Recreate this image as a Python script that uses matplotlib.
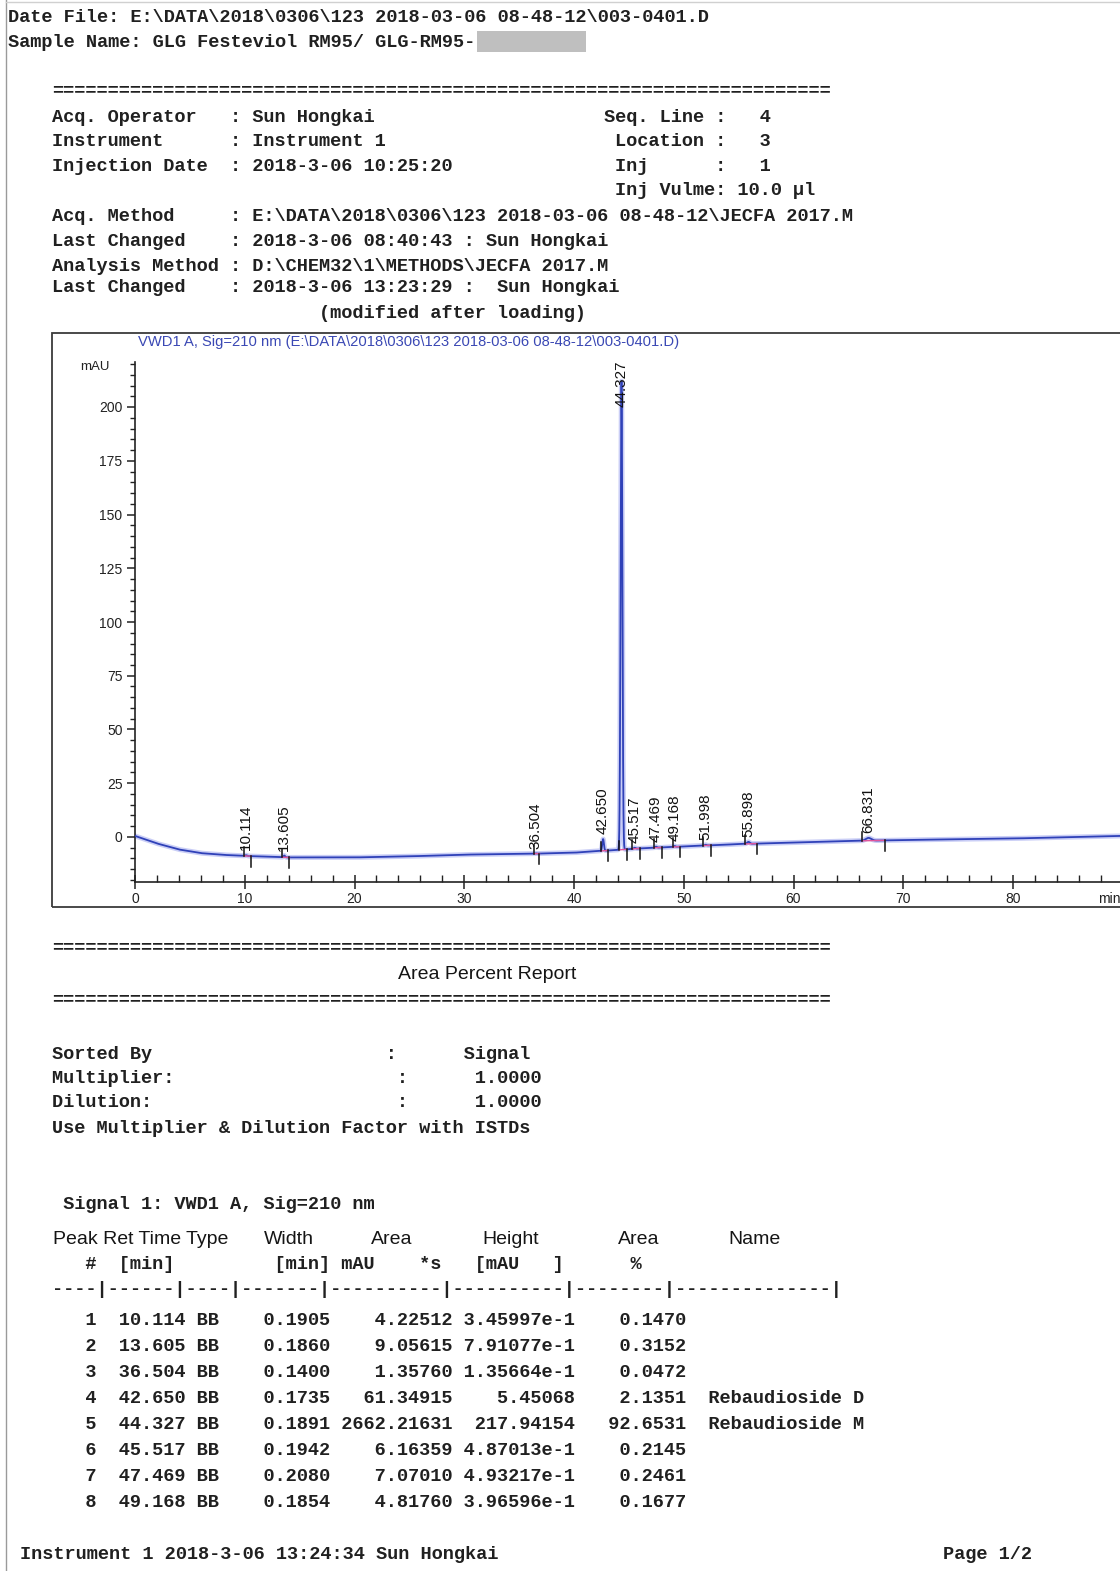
import numpy as np
import matplotlib
matplotlib.use("Agg")
import matplotlib.pyplot as plt
from matplotlib.patches import Rectangle
from matplotlib.ticker import MultipleLocator

# ---------------- data ----------------
baseline_t = [0, 2, 4, 6, 8, 10, 14, 20, 25, 30, 36, 40, 42, 44, 46, 50, 55, 60, 66, 70, 80, 89.8]
baseline_v = [0.5, -3.0, -5.8, -7.5, -8.3, -8.8, -9.5, -9.5, -9.0, -8.2, -7.8, -7.3, -6.6, -6.0,
              -5.3, -4.4, -3.3, -2.6, -1.8, -1.4, -0.7, 0.5]

peak_rt = [10.114, 13.605, 36.504, 42.650, 44.327, 45.517, 47.469, 49.168, 51.998, 55.898, 66.831]
peak_height = [0.346, 0.791, 0.136, 5.451, 217.942, 0.487, 0.493, 0.397, 0.35, 0.9, 1.3]
peak_width = [0.1905, 0.1860, 0.1400, 0.1735, 0.1891, 0.1942, 0.2080, 0.1854, 0.2, 0.3, 0.6]
peak_labels = ["10.114", "13.605", "36.504", "42.650", "44.327", "45.517", "47.469", "49.168",
               "51.998", "55.898", "66.831"]

yticks = [0, 25, 50, 75, 100, 125, 150, 175, 200]
xticks = [0, 10, 20, 30, 40, 50, 60, 70, 80]

tbl_num = [1, 2, 3, 4, 5, 6, 7, 8]
tbl_rt = [10.114, 13.605, 36.504, 42.650, 44.327, 45.517, 47.469, 49.168]
tbl_type = ["BB"] * 8
tbl_width = [0.1905, 0.1860, 0.1400, 0.1735, 0.1891, 0.1942, 0.2080, 0.1854]
tbl_area = ["4.22512", "9.05615", "1.35760", "61.34915", "2662.21631", "6.16359", "7.07010", "4.81760"]
tbl_height = ["3.45997e-1", "7.91077e-1", "1.35664e-1", "5.45068", "217.94154", "4.87013e-1",
              "4.93217e-1", "3.96596e-1"]
tbl_pct = ["0.1470", "0.3152", "0.0472", "2.1351", "92.6531", "0.2145", "0.2461", "0.1677"]
tbl_name = ["", "", "", "Rebaudioside D", "Rebaudioside M", "", "", ""]

# ---------------- figure ----------------
W, H = 1120, 1571
fig = plt.figure(figsize=(W / 100, H / 100), dpi=100)
fig.patch.set_facecolor("white")

MONO = "Liberation Mono"
SANS = "Liberation Sans"
TXT = "#151515"
DY = 2.5  # visual centring correction


def fx(x):
    return x / W


def fy(y):
    return 1 - y / H


def mono(x, y, s, **kw):
    fig.text(fx(x), fy(y + DY), s, family=MONO, fontsize=13.4, weight="bold", color="#202020",
             va="center", ha="left", **kw)


def sans(x, y, s, size=14, **kw):
    kw.setdefault("ha", "left")
    fig.text(fx(x), fy(y + DY), s, family=SANS, fontsize=size, color=TXT, va="center", **kw)


def cols(pairs, n=70):
    s = [" "] * n
    for c, t in pairs:
        s[c:c + len(t)] = list(t)
    return "".join(s).rstrip()


# page borders
fig.add_artist(plt.Line2D([fx(5.5), fx(5.5)], [0, 1], transform=fig.transFigure, color="#9a9a9a", lw=1))
fig.add_artist(plt.Line2D([fx(5.5), 1], [fy(2), fy(2)], transform=fig.transFigure, color="#d0d0d0", lw=1))

# header
mono(8, 15, r"Date File: E:\DATA\2018\0306\123 2018-03-06 08-48-12\003-0401.D")
mono(8, 40, "Sample Name: GLG Festeviol RM95/ GLG-RM95-")
fig.add_artist(Rectangle((fx(477), fy(52)), fx(586) - fx(477), fy(31) - fy(52),
                         transform=fig.transFigure, facecolor="#bfbfbf", edgecolor="none"))
mono(52, 88, "=" * 70)
mono(52, 115, "Acq. Operator   : Sun Hongkai")
mono(52, 139, "Instrument      : Instrument 1")
mono(52, 164, "Injection Date  : 2018-3-06 10:25:20")
mono(52, 214, r"Acq. Method     : E:\DATA\2018\0306\123 2018-03-06 08-48-12\JECFA 2017.M")
mono(52, 239, "Last Changed    : 2018-3-06 08:40:43 : Sun Hongkai")
mono(52, 264, r"Analysis Method : D:\CHEM32\1\METHODS\JECFA 2017.M")
mono(52, 285, "Last Changed    : 2018-3-06 13:23:29 :  Sun Hongkai")
mono(52, 311, "                        (modified after loading)")
mono(604, 115, "Seq. Line :   4")
mono(615, 139, "Location :   3")
mono(615, 164, "Inj      :   1")
mono(615, 188, "Inj Vulme: 10.0 µl")

# chart frame
fig.add_artist(Rectangle((fx(52), fy(907)), fx(1135) - fx(52), fy(333) - fy(907),
                         transform=fig.transFigure, facecolor="none", edgecolor="#3a3a3a", lw=1.3,
                         clip_on=False))
fig.text(fx(138), fy(342), r"VWD1 A, Sig=210 nm (E:\DATA\2018\0306\123 2018-03-06 08-48-12\003-0401.D)",
         family=SANS, fontsize=10.6, color="#3a48b4", va="center", ha="left")
fig.text(fx(80), fy(367), "mAU", family=SANS, fontsize=9.5, color="#222222", va="center", ha="left")
fig.text(fx(1098), fy(899), "min", family=SANS, fontsize=10, color="#222222", va="center", ha="left")

ax = fig.add_axes([fx(135), fy(882), 1 - fx(135), fy(362) - fy(882)])
px_per_min = 10.975
px_per_mau = 2.15
ax.set_xlim(0, (W - 135) / px_per_min)
ax.set_ylim(-(882 - 837) / px_per_mau, (837 - 362) / px_per_mau)
for s in ["top", "right"]:
    ax.spines[s].set_visible(False)
for s in ["left", "bottom"]:
    ax.spines[s].set_color("#222222")
    ax.spines[s].set_linewidth(1.2)
ax.set_xticks(xticks)
ax.set_yticks(yticks)
ax.xaxis.set_minor_locator(MultipleLocator(2))
ax.yaxis.set_minor_locator(MultipleLocator(5))
ax.tick_params(axis="y", which="major", direction="out", length=6, width=1.1, colors="#222222",
               labelsize=10, labelcolor="#222222", pad=3)
ax.tick_params(axis="y", which="minor", direction="out", length=3.5, width=1.0, colors="#222222")
ax.tick_params(axis="x", which="major", direction="inout", length=10, width=1.1, colors="#222222",
               labelsize=10, labelcolor="#222222", pad=2)
ax.tick_params(axis="x", which="minor", direction="in", length=5, width=1.0, colors="#222222")
for lab in ax.get_xticklabels() + ax.get_yticklabels():
    lab.set_family(SANS)
ax.patch.set_alpha(0)

# trace
t = np.linspace(0, 89.8, 18000)
base = np.interp(t, baseline_t, baseline_v)
signal = base.copy()
for rt, h, w in zip(peak_rt, peak_height, peak_width):
    sig = w / 2.3548
    signal += h * np.exp(-0.5 * ((t - rt) / sig) ** 2)
ax.plot(t, signal, color="#a7aef0", lw=3.6, alpha=0.6, zorder=2, clip_on=True)
ax.plot(t, signal, color="#2f41b8", lw=1.3, zorder=3, clip_on=True)

# baselines, ticks and labels
ymax = ax.get_ylim()[1]
for rt, h, w, lab in zip(peak_rt, peak_height, peak_width, peak_labels):
    b = np.interp(rt, baseline_t, baseline_v)
    st, en = rt - 1.0 * w, rt + 2.5 * w
    bs, be = np.interp(st, baseline_t, baseline_v), np.interp(en, baseline_t, baseline_v)
    ax.plot([st, en], [bs, be], color="#e0559c", lw=1.0, zorder=4)
    ax.plot([st, st], [bs, bs + 4], color="#111111", lw=1.1, zorder=5)
    ax.plot([en, en], [be, be - 5], color="#111111", lw=1.1, zorder=5)
    ylab = b + h + 2.2
    if ylab + 21 > ymax:
        ylab = ymax - 21
    ax.text(rt, ylab, lab, rotation=90, ha="center", va="bottom", family=SANS, fontsize=11,
            color="#111111", zorder=6)

# report section
mono(52, 945, "=" * 70)
sans(487, 972, "Area Percent Report", ha="center")
mono(52, 997, "=" * 70)
mono(52, 1052, "Sorted By                     :      Signal")
mono(52, 1076, "Multiplier:                    :      1.0000")
mono(52, 1100, "Dilution:                      :      1.0000")
mono(52, 1126, "Use Multiplier & Dilution Factor with ISTDs")
mono(52, 1202, " Signal 1: VWD1 A, Sig=210 nm")

sans(53, 1237, "Peak Ret Time Type")
sans(264, 1237, "Width")
sans(371, 1237, "Area")
sans(482, 1237, "Height")
sans(618, 1237, "Area")
sans(728, 1237, "Name")
mono(52, 1262, cols([(3, "#"), (6, "[min]"), (20, "[min]"), (26, "mAU"), (33, "*s"),
                     (38, "[mAU"), (45, "]"), (52, "%")]))
mono(52, 1287, "----|------|----|-------|----------|----------|--------|--------------|")
for i, (n, rt, ty, w, a, h, p, nm) in enumerate(zip(tbl_num, tbl_rt, tbl_type, tbl_width, tbl_area,
                                                    tbl_height, tbl_pct, tbl_name)):
    row = f"{n:>4}  {rt:6.3f} {ty}    {w:6.4f} {a:>10} {h:>10} {p:>9}"
    if nm:
        row += "  " + nm
    mono(52, 1318 + 26 * i, row)

mono(20, 1552, "Instrument 1 2018-3-06 13:24:34 Sun Hongkai")
mono(943, 1552, "Page 1/2")

fig.savefig("out.png", dpi=100, facecolor="white")
